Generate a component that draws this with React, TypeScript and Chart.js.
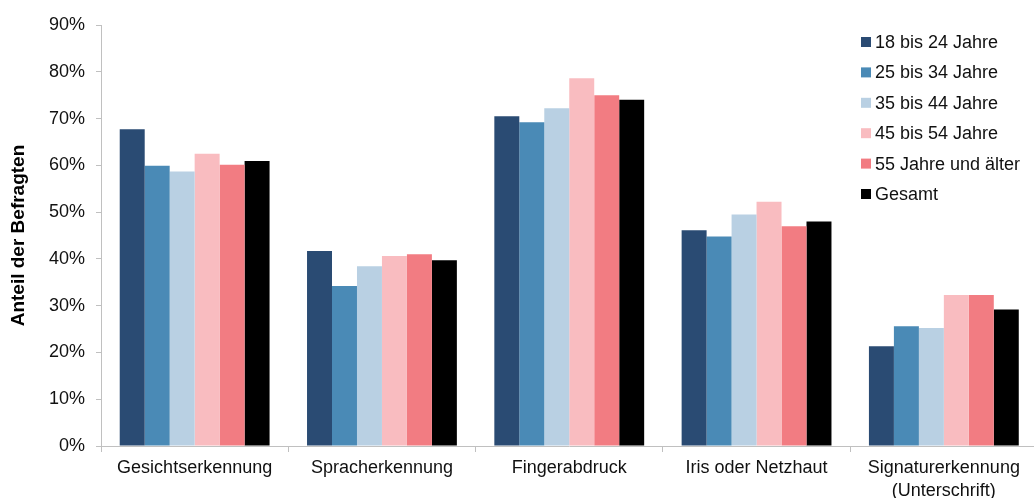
import React, { useEffect, useRef } from "react";
import { Chart, registerables } from "chart.js";

Chart.register(...registerables);

const categories: (string | string[])[] = [
  "Gesichtserkennung",
  "Spracherkennung",
  "Fingerabdruck",
  "Iris oder Netzhaut",
  ["Signaturerkennung", "(Unterschrift)"],
];

const seriesLabels = [
  "18 bis 24 Jahre",
  "25 bis 34 Jahre",
  "35 bis 44 Jahre",
  "45 bis 54 Jahre",
  "55 Jahre und älter",
  "Gesamt",
];

const age18to24 = [67.7, 41.7, 70.5, 46.1, 21.3];
const age25to34 = [59.9, 34.2, 69.2, 44.8, 25.6];
const age35to44 = [58.7, 38.4, 72.2, 49.5, 25.2];
const age45to54 = [62.5, 40.6, 78.6, 52.2, 32.3];
const age55plus = [60.1, 41.0, 75.0, 47.0, 32.3];
const gesamt = [60.9, 39.7, 74.0, 48.0, 29.2];

const colors = ["#2a4b73", "#4a8ab6", "#b9d0e3", "#f9bcc0", "#f27c82", "#000000"];

const yTicks = [0, 10, 20, 30, 40, 50, 60, 70, 80, 90];

const FONT = '"Liberation Sans", Arial, sans-serif';

const legendPlugin = {
  id: "customLegend",
  afterDraw(chart: any) {
    const ctx = chart.ctx;
    ctx.save();
    ctx.font = `18px ${FONT}`;
    ctx.textBaseline = "middle";
    ctx.textAlign = "left";
    chart.data.datasets.forEach((ds: any, i: number) => {
      const cy = 42 + i * 30.4;
      ctx.fillStyle = ds.backgroundColor;
      ctx.fillRect(861, cy - 5, 10, 10);
      ctx.fillStyle = "#111";
      ctx.fillText(ds.label, 875, cy + 1);
    });
    ctx.restore();
  },
};

export default function App() {
  const ref = useRef<HTMLCanvasElement>(null);

  useEffect(() => {
    if (!ref.current) return;
    const data = [age18to24, age25to34, age35to44, age45to54, age55plus, gesamt];
    const chart = new Chart(ref.current, {
      type: "bar",
      data: {
        labels: categories,
        datasets: data.map((d, i) => ({
          label: seriesLabels[i],
          data: d,
          backgroundColor: colors[i],
          borderWidth: 0,
          categoryPercentage: 0.8,
          barPercentage: 1.0,
        })),
      },
      plugins: [legendPlugin],
      options: {
        responsive: false,
        animation: false,
        devicePixelRatio: 1,
        layout: { padding: { top: 25, right: 4.5, left: 0, bottom: 0 } },
        plugins: {
          legend: { display: false },
          tooltip: { enabled: false },
        },
        scales: {
          x: {
            grid: {
              offset: true,
              drawOnChartArea: false,
              drawTicks: true,
              tickLength: 6,
              color: "#c0c0c0",
            },
            border: { display: true, color: "#c0c0c0", width: 1 },
            ticks: {
              color: "#111",
              font: { size: 18, family: FONT, lineHeight: 1.25 },
              padding: 5,
              maxRotation: 0,
              autoSkip: false,
            },
            afterFit: (s: any) => {
              s.height = 52;
            },
          },
          y: {
            min: 0,
            max: 90,
            afterBuildTicks: (s: any) => {
              s.ticks = yTicks.map((v) => ({ value: v }));
            },
            grid: {
              drawOnChartArea: false,
              drawTicks: true,
              tickLength: 5,
              color: "#c0c0c0",
            },
            border: { display: true, color: "#c0c0c0", width: 1 },
            ticks: {
              color: "#111",
              font: { size: 18, family: FONT },
              padding: 11,
              callback: (v: any) => `${v}%`,
            },
            title: {
              display: true,
              text: "Anteil der Befragten",
              color: "#000",
              font: { size: 19, family: FONT, weight: "bold" },
              padding: { top: 7, bottom: 0 },
            },
            afterFit: (s: any) => {
              s.width = 101;
            },
          },
        },
      },
    } as any);
    return () => chart.destroy();
  }, []);

  return (
    <div
      style={{
        position: "absolute",
        left: 0,
        top: 0,
        width: 1034,
        height: 498,
        overflow: "hidden",
        background: "#fff",
      }}
    >
      <canvas ref={ref} width={1042} height={498} style={{ display: "block" }} />
    </div>
  );
}
